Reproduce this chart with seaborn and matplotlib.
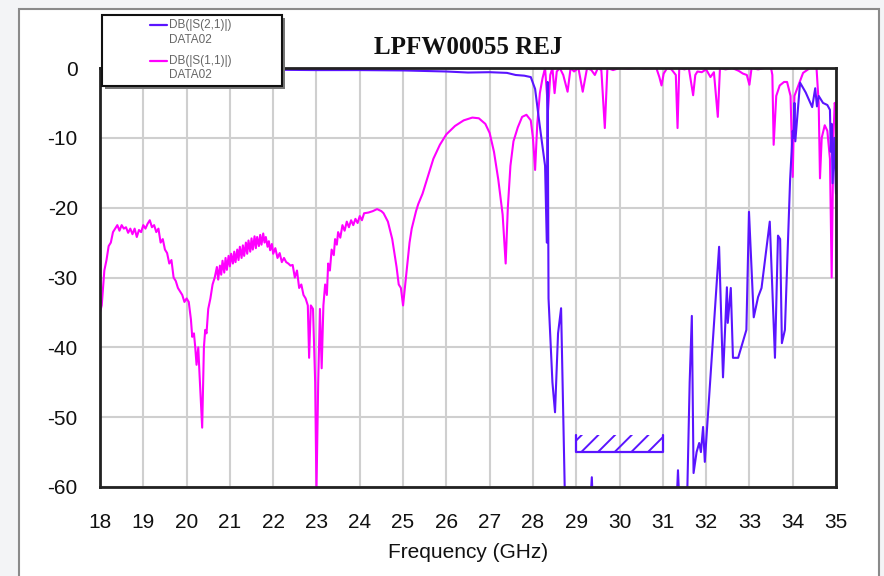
#!/usr/bin/env python3
"""Plot LPFW00055 rejection measurement (S21 / S11)."""

import matplotlib

matplotlib.use("Agg")
import matplotlib.pyplot as plt
import pandas as pd
import seaborn as sns
from matplotlib.lines import Line2D
from matplotlib.patches import Rectangle

# S11 trace, DB(|S(1,1)|)
s11_freq = [
    18.00, 18.04, 18.10, 18.15, 18.20, 18.25, 18.30, 18.35, 18.40, 18.45,
    18.50, 18.55, 18.60, 18.65, 18.70, 18.75, 18.80, 18.85, 18.90, 18.95,
    19.00, 19.05, 19.10, 19.15, 19.20, 19.25, 19.30, 19.35, 19.40, 19.45,
    19.50, 19.55, 19.60, 19.65, 19.70, 19.75, 19.80, 19.85, 19.90, 19.95,
    20.00, 20.05, 20.10, 20.13, 20.17, 20.20, 20.23, 20.27, 20.30, 20.36,
    20.40, 20.43, 20.46, 20.50, 20.55, 20.60, 20.65, 20.70, 20.73, 20.77,
    20.80, 20.83, 20.87, 20.90, 20.93, 20.97, 21.00, 21.03, 21.07, 21.10,
    21.13, 21.17, 21.20, 21.23, 21.27, 21.30, 21.33, 21.37, 21.40, 21.43,
    21.47, 21.50, 21.53, 21.57, 21.60, 21.63, 21.67, 21.70, 21.73, 21.77,
    21.80, 21.83, 21.87, 21.90, 21.93, 21.97, 22.00, 22.05, 22.10, 22.15,
    22.20, 22.25, 22.30, 22.35, 22.40, 22.45, 22.50, 22.55, 22.60, 22.65,
    22.70, 22.75, 22.80, 22.83, 22.87, 22.92, 22.97, 23.00, 23.04, 23.08,
    23.12, 23.16, 23.20, 23.24, 23.27, 23.31, 23.35, 23.40, 23.43, 23.47,
    23.50, 23.55, 23.60, 23.65, 23.70, 23.75, 23.80, 23.85, 23.90, 23.95,
    24.00, 24.05, 24.10, 24.20, 24.30, 24.40, 24.50, 24.55, 24.65, 24.75,
    24.80, 24.85, 24.90, 24.95, 25.00, 25.05, 25.10, 25.15, 25.20, 25.30,
    25.35, 25.45, 25.55, 25.70, 25.85, 26.00, 26.20, 26.40, 26.60, 26.75,
    26.90, 27.00, 27.10, 27.20, 27.30, 27.37, 27.42, 27.48, 27.55, 27.65,
    27.75, 27.85, 27.95, 28.00, 28.05, 28.10, 28.16, 28.22, 28.28, 28.35,
    28.40, 28.45, 28.50, 28.55, 28.62, 28.70, 28.80, 28.87, 28.95, 29.05,
    29.15, 29.25, 29.35, 29.43, 29.50, 29.58, 29.66, 29.72, 29.85, 30.00,
    30.20, 30.40, 30.60, 30.85, 30.92, 30.97, 31.02, 31.10, 31.20, 31.30,
    31.34, 31.38, 31.50, 31.60, 31.70, 31.75, 31.80, 31.90, 32.00, 32.10,
    32.18, 32.27, 32.32, 32.45, 32.60, 32.75, 32.85, 32.94, 33.00, 33.05,
    33.20, 33.35, 33.50, 33.53, 33.56, 33.62, 33.70, 33.80, 33.87, 33.95,
    34.00, 34.04, 34.10, 34.24, 34.40, 34.55, 34.60, 34.63, 34.67, 34.74,
    34.80, 34.86, 34.90, 34.94, 34.97, 35.00,
]
s11_db = [
    -35.0, -34.0, -29.0, -27.5, -25.5, -25.0, -23.5, -23.0, -22.5, -23.3,
    -22.5, -23.0, -22.8, -23.6, -23.0, -23.8, -23.0, -24.2, -23.2, -23.5,
    -22.5, -23.0, -22.3, -21.8, -22.8, -22.5, -23.5, -23.0, -25.0, -24.5,
    -26.0, -26.5, -28.0, -27.5, -30.0, -30.5, -31.5, -32.0, -32.5, -33.5,
    -33.0, -33.5, -36.0, -38.5, -38.0, -40.0, -42.5, -40.0, -44.0, -51.5,
    -40.0, -37.5, -38.0, -34.5, -33.0, -31.0, -30.0, -28.5, -30.3, -28.3,
    -29.6, -27.6, -29.3, -27.2, -28.9, -26.9, -28.4, -26.6, -28.0, -26.3,
    -27.8, -26.0, -27.5, -25.6, -27.2, -25.4, -26.9, -25.0, -26.6, -24.7,
    -26.3, -24.4, -26.0, -24.1, -25.8, -24.2, -25.5, -23.9, -25.3, -23.7,
    -25.0, -24.2, -25.6, -24.8, -26.1, -25.2, -26.6, -25.8, -27.2, -26.5,
    -27.8, -27.2, -27.8, -28.0, -28.3, -28.2, -30.0, -29.0, -31.5, -31.0,
    -32.5, -33.0, -34.0, -41.5, -34.0, -34.5, -45.0, -60.5, -45.0, -34.5,
    -43.0, -34.0, -31.0, -32.5, -28.0, -29.0, -26.0, -26.8, -24.5, -25.3,
    -23.5, -24.3, -22.5, -23.3, -22.0, -22.8, -21.8, -22.5, -21.6, -22.2,
    -21.2, -21.8, -20.8, -20.7, -20.5, -20.2, -20.5, -20.8, -22.0, -24.5,
    -26.5, -28.5, -31.0, -31.5, -34.0, -31.0, -28.0, -25.0, -23.0, -20.5,
    -19.5, -18.0, -16.0, -13.0, -11.0, -9.5, -8.3, -7.5, -7.1, -7.2,
    -8.0, -9.3, -12.0, -16.0, -21.0, -28.0, -20.0, -14.0, -10.5, -8.5,
    -7.0, -6.7, -7.5, -10.0, -14.6, -8.0, -3.6, -1.5, 0.0, -6.0,
    -1.0, 0.0, -3.6, -0.5, 0.0, -1.0, -3.4, 0.0, -0.5, 0.0,
    -3.4, 0.0, -0.3, -1.0, 0.0, -0.3, -8.6, 0.0, -0.3, 0.0,
    -0.1, 0.0, -0.1, 0.0, -1.3, -2.5, -0.8, 0.0, -0.2, -1.0,
    -8.6, 0.0, -0.2, 0.0, -3.9, -1.0, -0.5, -0.6, -0.2, -1.3,
    -0.6, -7.0, 0.0, -0.2, 0.0, -0.4, -0.8, -1.0, -2.4, 0.0,
    -0.2, 0.0, 0.0, -1.0, -11.0, -4.0, -2.5, -2.0, -2.0, -4.0,
    -15.6, -4.0, -3.0, -0.7, 0.0, 0.0, -5.0, -15.8, -10.0, -8.2,
    -9.0, -13.0, -30.0, -10.0, -5.0, -6.0,
]

# S21 trace, DB(|S(2,1)|)
s21_freq = [
    18.00, 20.00, 22.00, 23.00, 24.00, 25.00, 26.00, 26.50, 27.00, 27.40,
    27.60, 27.80, 27.95, 28.05, 28.16, 28.28, 28.32, 28.34, 28.36, 28.45,
    28.51, 28.58, 28.65, 28.74, 28.80, 29.30, 29.36, 29.40, 30.00, 31.00,
    31.30, 31.35, 31.38, 31.55, 31.62, 31.67, 31.71, 31.78, 31.84, 31.88,
    31.93, 31.97, 32.30, 32.39, 32.48, 32.50, 32.57, 32.62, 32.74, 32.93,
    32.99, 33.10, 33.20, 33.28, 33.47, 33.59, 33.66, 33.71, 33.75, 33.82,
    33.94, 34.00, 34.02, 34.04, 34.06, 34.17, 34.30, 34.45, 34.52, 34.56,
    34.60, 34.70, 34.80, 34.86, 34.88, 34.90, 34.92, 34.96, 35.00,
]
s21_db = [
    -0.25, -0.25, -0.25, -0.3, -0.3, -0.35, -0.5, -0.65, -0.6, -0.7,
    -1.0, -1.1, -1.3, -3.0, -8.4, -14.0, -25.0, -2.0, -33.0, -45.0,
    -49.3, -38.0, -34.4, -62.0, -70.0, -65.0, -58.6, -65.0, -75.0, -70.0,
    -65.0, -57.6, -62.0, -65.0, -45.0, -35.5, -58.0, -55.0, -53.7, -55.0,
    -51.4, -56.4, -25.6, -44.3, -31.4, -36.5, -31.5, -41.5, -41.5, -37.5,
    -20.6, -35.7, -32.8, -31.5, -22.0, -41.5, -24.0, -24.5, -39.4, -37.5,
    -16.0, -9.0, -10.0, -5.0, -10.5, -2.1, -3.5, -5.6, -2.9, -5.5,
    -4.0, -5.0, -5.3, -6.0, -12.0, -8.0, -16.5, -10.0, -18.0,
]

# rejection mask
mask_freq = [29.0, 31.0]
mask_level = -55.0
mask_top = -52.6

x_ticks = list(range(18, 36))
y_ticks = [0, -10, -20, -30, -40, -50, -60]

BLUE = "#5a14ff"
MAGENTA = "#ff00ff"

sns.set_theme(style="white")
plt.rcParams["font.family"] = ["Liberation Sans Narrow", "Liberation Sans", "DejaVu Sans"]
plt.rcParams["axes.unicode_minus"] = False
plt.rcParams["hatch.linewidth"] = 1.4

fig = plt.figure(figsize=(8.84, 5.76), dpi=100, facecolor="#f3f4f6")

# outer frame of the picture, kept behind the axes
fig.patches.append(
    Rectangle((19 / 884, -0.02), 860 / 884, 1 - 9 / 576 + 0.02, transform=fig.transFigure,
              facecolor="white", edgecolor="#8a8a8a", linewidth=1.5, zorder=-10)
)

ax = fig.add_axes([100 / 884, 1 - 487 / 576, 736 / 884, 419 / 576])
ax.set_zorder(1)
ax.set_facecolor("white")

df11 = pd.DataFrame({"freq": s11_freq, "db": s11_db})
df21 = pd.DataFrame({"freq": s21_freq, "db": s21_db})
sns.lineplot(data=df11, x="freq", y="db", ax=ax, color=MAGENTA, linewidth=1.5,
             sort=False, estimator=None)
sns.lineplot(data=df21, x="freq", y="db", ax=ax, color=BLUE, linewidth=1.5,
             sort=False, estimator=None)

# mask: hatched strip plus its outline (open at the top)
ax.fill_between(mask_freq, mask_level, mask_top, facecolor="none", edgecolor=BLUE,
                hatch="//", linewidth=0)
ax.plot([mask_freq[0], mask_freq[0], mask_freq[1], mask_freq[1]],
        [mask_top, mask_level, mask_level, mask_top], color=BLUE, linewidth=1.6)

ax.set_xlim(18, 35)
ax.set_ylim(-60, 0)
ax.set_xticks(x_ticks)
ax.set_yticks(y_ticks)
ax.grid(True, color="#cfcfcf", linewidth=1.5)
ax.set_axisbelow(True)
ax.tick_params(length=0, labelsize=15, colors="#111111")
ax.tick_params(axis="x", pad=19)
ax.tick_params(axis="y", pad=16)
for side in ["left", "bottom", "top", "right"]:
    ax.spines[side].set_color("#222222")
    ax.spines[side].set_linewidth(2)
ax.set_xlabel("Frequency (GHz)", fontsize=15, color="#111111", labelpad=8)
ax.set_ylabel("")

fig.text(468 / 884, 1 - 47 / 576, "LPFW00055 REJ", ha="center", va="center",
         fontsize=18, fontweight="bold", family=["Liberation Serif", "DejaVu Serif"],
         color="#111111")

# legend box drawn by hand, overlapping the top of the axes
fig.patches.append(
    Rectangle((105 / 884, 1 - 89 / 576), 180 / 884, 71 / 576, transform=fig.transFigure,
              facecolor="#777777", edgecolor="none", zorder=5)
)
fig.patches.append(
    Rectangle((102 / 884, 1 - 86 / 576), 180 / 884, 71 / 576, transform=fig.transFigure,
              facecolor="white", edgecolor="#111111", linewidth=1.5, zorder=6)
)
legend_rows = [
    (BLUE, "DB(|S(2,1)|)", 25, 40),
    (MAGENTA, "DB(|S(1,1)|)", 61, 75),
]
for color, name, y_line, y_data in legend_rows:
    fig.add_artist(Line2D([150 / 884, 167 / 884], [1 - y_line / 576, 1 - y_line / 576],
                          color=color, linewidth=1.6, transform=fig.transFigure, zorder=7))
    fig.text(169 / 884, 1 - y_line / 576, name, ha="left", va="center", fontsize=8.5,
             color="#666666", zorder=7, family=["Liberation Sans", "DejaVu Sans"])
    fig.text(169 / 884, 1 - y_data / 576, "DATA02", ha="left", va="center", fontsize=8.5,
             color="#666666", zorder=7, family=["Liberation Sans", "DejaVu Sans"])

fig.savefig("out.png", dpi=100, facecolor=fig.get_facecolor())
